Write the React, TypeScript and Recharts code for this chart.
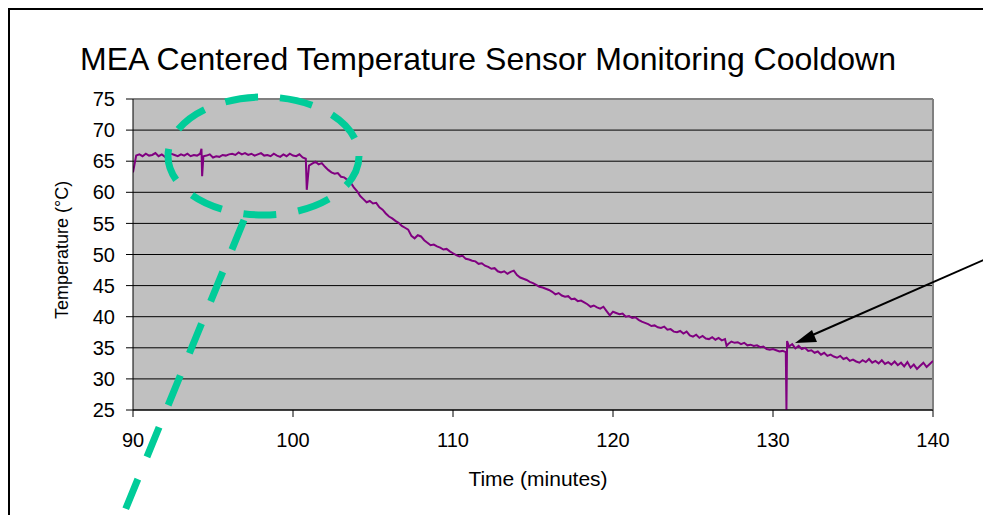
import React from "react";
import {
  LineChart,
  Line,
  XAxis,
  YAxis,
  CartesianGrid,
  ReferenceLine,
} from "recharts";

// Sampling grid of the logged temperature (minutes)
const START_MIN = 90;
const STEP_MIN = 0.2;

// Temperature (°C) read every 0.2 min from 90.0 to 140.0
const temps: number[] = [
  63.2, 65.9, 66.1, 65.8, 66.2,
  65.9, 66.0, 66.3, 65.8, 66.1,
  65.7, 65.9, 66.2, 66.0, 65.8,
  66.1, 65.9, 66.2, 65.8, 66.0,
  65.9, 66.2, 65.8, 65.9, 66.1,
  65.6, 65.8, 65.7, 66.0, 65.9,
  66.1, 66.2, 66.0, 66.4, 66.1,
  66.3, 66.0, 66.2, 65.9, 66.1,
  66.3, 65.9, 66.0, 65.8, 66.2,
  65.9, 65.7, 66.1, 65.8, 66.2,
  65.9, 65.8, 66.1, 65.6, 65.4,
  64.3, 64.6, 64.9, 64.5, 64.7,
  64.1, 63.6, 63.2, 63.0, 63.1,
  62.5, 62.4, 62.0, 61.6, 60.8,
  60.2, 59.4, 58.9, 58.4, 58.6,
  58.2, 58.3, 57.6, 57.2, 56.6,
  56.1, 55.8, 55.4, 55.1, 54.6,
  54.3, 54.0, 53.0, 52.6, 53.1,
  52.9, 52.3, 51.9, 51.5, 51.6,
  51.3, 51.1, 50.8, 50.9, 50.5,
  50.2, 49.9, 49.7, 49.8, 49.3,
  49.2, 49.0, 48.9, 48.5, 48.6,
  48.2, 48.0, 47.7, 47.8, 47.3,
  47.1, 47.3, 46.9, 47.2, 47.4,
  46.7, 46.3, 46.1, 45.9, 45.6,
  45.4, 45.1, 44.8, 44.7, 44.5,
  44.3, 44.0, 43.6, 43.8, 43.4,
  43.2, 43.3, 42.8, 42.9, 42.5,
  42.6, 42.3, 42.0, 41.6, 41.8,
  41.5, 41.3, 41.6, 40.9, 40.2,
  40.8, 40.6, 40.4, 40.5, 40.0,
  40.1, 39.8, 39.9, 39.5, 39.2,
  39.0, 38.8, 38.5, 38.6, 38.3,
  38.2, 38.4, 37.9, 38.0, 37.6,
  37.5, 37.7, 37.3, 37.6, 37.0,
  36.8, 37.1, 36.6, 36.9, 36.5,
  36.4, 36.7, 36.3, 36.6, 36.2,
  36.4, 35.6, 36.0, 35.8, 35.9,
  35.6, 35.8, 35.4, 35.5, 35.3,
  35.4, 35.1, 35.2, 34.8, 34.7,
  34.8, 34.6, 34.4, 34.5, 34.3,
  35.2, 35.6, 34.9, 35.3, 34.8,
  35.0, 34.5, 34.6, 34.2, 34.4,
  33.9, 34.2, 33.7, 33.9, 33.6,
  33.4, 33.7, 33.2, 33.4, 32.9,
  33.1, 32.8, 32.6, 33.0, 32.7,
  33.2, 32.6, 32.9, 32.5, 33.0,
  32.4, 32.7, 32.3, 32.8, 32.2,
  32.6, 32.0, 32.7, 31.8, 32.3,
  31.6, 32.1, 32.6, 31.9, 32.4,
  32.9,
];

// Short sensor glitches between grid samples
const glitchTimes: number[] = [94.28, 94.32, 100.86, 127.1, 130.84, 130.88];
const glitchTemps: number[] = [67.0, 62.6, 60.4, 35.3, 25.0, 36.1];

const xTicks: number[] = [90, 100, 110, 120, 130, 140];
const yTicks: number[] = [25, 30, 35, 40, 45, 50, 55, 60, 65, 70, 75];

const TITLE = "MEA Centered Temperature Sensor Monitoring Cooldown";
const X_LABEL = "Time (minutes)";
const Y_LABEL = "Temperature (°C)";

const data = [
  ...temps.map((v, i) => ({ t: +(START_MIN + i * STEP_MIN).toFixed(2), v })),
  ...glitchTimes.map((t, i) => ({ t, v: glitchTemps[i] })),
].sort((a, b) => a.t - b.t);

const FONT = "'Liberation Sans', Arial, sans-serif";

export default function App() {
  return (
    <div
      style={{
        position: "fixed",
        left: 0,
        top: 0,
        width: 983,
        height: 515,
        overflow: "hidden",
        background: "#fff",
      }}
    >
      <div
        style={{
          position: "absolute",
          left: 8,
          top: 8,
          width: 1100,
          height: 700,
          borderTop: "2px solid #000",
          borderLeft: "2px solid #000",
        }}
      />
      <div style={{ position: "absolute", left: 10, top: 10 }}>
        <LineChart
          width={973}
          height={505}
          data={data}
          margin={{ top: 89, right: 50, bottom: 35, left: 0 }}
        >
          <CartesianGrid
            vertical={false}
            stroke="#000"
            fill="#C0C0C0"
            fillOpacity={1}
          />
          <XAxis
            dataKey="t"
            type="number"
            domain={[90, 140]}
            ticks={xTicks}
            allowDataOverflow
            height={70}
            tickSize={7}
            tickMargin={16}
            axisLine={{ stroke: "#000" }}
            tickLine={{ stroke: "#000" }}
            tick={{ fill: "#000", fontSize: 20, fontFamily: FONT }}
          />
          <YAxis
            type="number"
            domain={[25, 75]}
            ticks={yTicks}
            allowDataOverflow
            width={123}
            tickSize={7}
            tickMargin={11}
            axisLine={{ stroke: "#000" }}
            tickLine={{ stroke: "#000" }}
            tick={{ fill: "#000", fontSize: 20, fontFamily: FONT }}
          />
          <ReferenceLine y={75} stroke="#808080" strokeWidth={2} />
          <ReferenceLine x={140} stroke="#808080" strokeWidth={2} />
          <Line
            type="linear"
            dataKey="v"
            stroke="#800080"
            strokeWidth={2}
            dot={false}
            isAnimationActive={false}
          />
        </LineChart>
      </div>
      <svg
        width={983}
        height={515}
        style={{ position: "absolute", left: 0, top: 0, pointerEvents: "none" }}
      >
        <text
          x={488}
          y={70}
          textAnchor="middle"
          fontFamily={FONT}
          fontSize={32}
          fill="#000"
        >
          {TITLE}
        </text>
        <text
          x={538}
          y={486}
          textAnchor="middle"
          fontFamily={FONT}
          fontSize={21}
          fill="#000"
        >
          {X_LABEL}
        </text>
        <text
          x={0}
          y={0}
          transform="translate(68,250) rotate(-90)"
          textAnchor="middle"
          fontFamily={FONT}
          fontSize={18}
          fill="#000"
        >
          {Y_LABEL}
        </text>
        <ellipse
          cx={263.5}
          cy={156}
          rx={95.5}
          ry={59}
          fill="none"
          stroke="#00CC99"
          strokeWidth={7}
          strokeDasharray="33 22"
        />
        <line
          x1={244}
          y1={220}
          x2={117}
          y2={530}
          stroke="#00CC99"
          strokeWidth={7}
          strokeDasharray="32 24"
        />
        <line x1={995} y1={255} x2={808} y2={337} stroke="#000" strokeWidth={2} />
        <polygon points="795,343 812,330 817,342" fill="#000" />
      </svg>
    </div>
  );
}
